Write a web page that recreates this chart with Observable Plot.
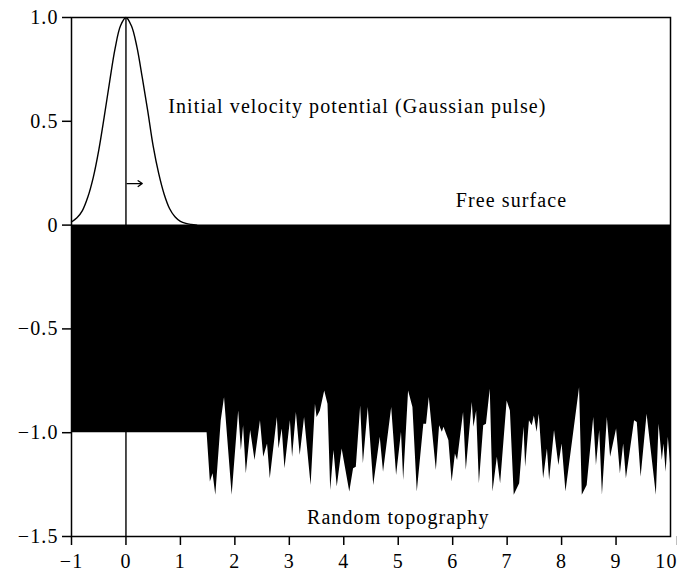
<!DOCTYPE html>
<html>
<head>
<meta charset="utf-8">
<script src="https://cdn.jsdelivr.net/npm/d3@7"></script>
<script src="https://cdn.jsdelivr.net/npm/@observablehq/plot@0.6"></script>
<style>
  html, body { margin: 0; padding: 0; background: white; }
</style>
</head>
<body>
<div id="chart"></div>
<script>
// Initial velocity potential (Gaussian pulse)
const gaussX = [-1.0, -0.9, -0.8, -0.7, -0.6, -0.5, -0.4, -0.3, -0.2, -0.1, 0.0, 0.1, 0.2, 0.3, 0.4, 0.5, 0.6, 0.7, 0.8, 0.9, 1.0, 1.1, 1.2, 1.3];
const gaussY = [0.015, 0.035, 0.07, 0.135, 0.23, 0.36, 0.52, 0.69, 0.85, 0.96, 1.0, 0.96, 0.86, 0.71, 0.55, 0.38, 0.25, 0.15, 0.08, 0.04, 0.018, 0.008, 0.003, 0.0];

// Random topography (bottom depth)
const topoX = [-1.0, 1.49, 1.55, 1.60, 1.65, 1.75, 1.81, 1.95, 2.07, 2.12, 2.16, 2.21, 2.29, 2.37, 2.47, 2.53, 2.60, 2.65, 2.78, 2.81, 2.87, 2.92, 3.02, 3.06, 3.13, 3.20, 3.28, 3.40, 3.48, 3.51, 3.57, 3.65, 3.71, 3.76, 3.82, 3.88, 3.97, 4.11, 4.18, 4.23, 4.31, 4.36, 4.45, 4.55, 4.67, 4.73, 4.88, 4.97, 5.06, 5.10, 5.19, 5.27, 5.35, 5.47, 5.52, 5.57, 5.70, 5.76, 5.81, 5.84, 5.93, 5.99, 6.05, 6.09, 6.20, 6.25, 6.36, 6.39, 6.44, 6.49, 6.57, 6.62, 6.69, 6.74, 6.82, 6.88, 7.00, 7.06, 7.13, 7.23, 7.31, 7.34, 7.41, 7.46, 7.50, 7.55, 7.59, 7.67, 7.74, 7.78, 7.87, 7.95, 8.01, 8.08, 8.33, 8.38, 8.47, 8.59, 8.64, 8.70, 8.75, 8.84, 8.90, 9.01, 9.08, 9.14, 9.19, 9.34, 9.39, 9.46, 9.57, 9.74, 9.79, 9.85, 9.88, 9.92, 9.96, 10.0];
const topoY = [-1.0, -1.0, -1.238, -1.198, -1.301, -0.943, -0.831, -1.301, -0.895, -1.086, -0.967, -1.198, -0.990, -1.134, -0.943, -1.118, -1.054, -1.222, -0.927, -1.078, -0.982, -1.174, -0.943, -1.118, -0.903, -1.110, -0.927, -1.254, -0.863, -0.927, -0.895, -0.799, -0.863, -1.278, -1.086, -1.262, -1.078, -1.286, -1.174, -1.166, -0.871, -1.150, -0.879, -1.254, -1.022, -1.190, -0.879, -1.206, -0.998, -1.230, -0.799, -0.879, -1.286, -0.959, -0.959, -0.831, -1.182, -0.967, -0.998, -0.974, -1.038, -1.238, -1.102, -1.134, -0.903, -1.182, -0.855, -0.974, -0.895, -1.246, -0.967, -0.959, -0.791, -1.286, -1.118, -1.246, -0.847, -0.895, -1.301, -1.246, -0.974, -1.166, -0.943, -0.967, -0.919, -0.998, -0.911, -1.222, -1.078, -1.230, -0.990, -1.158, -1.054, -1.286, -0.783, -1.301, -1.254, -0.927, -1.158, -0.990, -1.301, -0.927, -1.118, -0.982, -1.198, -1.054, -1.222, -0.943, -0.951, -1.214, -0.911, -1.301, -0.959, -1.134, -1.054, -1.190, -1.022, -1.15];

const xTicks = [-1, 0, 1, 2, 3, 4, 5, 6, 7, 8, 9, 10];
const xTickLabels = ["\u22121", "0", "1", "2", "3", "4", "5", "6", "7", "8", "9", "10"];
const yTicks = [-1.5, -1.0, -0.5, 0, 0.5, 1.0];
const yTickLabels = ["\u22121.5", "\u22121.0", "\u22120.5", "0", "0.5", "1.0"];

const gauss = gaussX.map((x, i) => ({x, y: gaussY[i]}));
const topo = topoX.map((x, i) => ({x, y: topoY[i]}));

const font = "'Liberation Serif', 'Times New Roman', serif";
const xFmt = d => xTickLabels[xTicks.indexOf(d)];
const yFmt = d => yTickLabels[yTicks.indexOf(d)];

const chart = Plot.plot({
  width: 677,
  height: 580,
  marginLeft: 71,
  marginRight: 7,
  marginTop: 17,
  marginBottom: 44,
  style: {fontFamily: font, fontSize: "20px", color: "black", background: "white", letterSpacing: "1.1px"},
  x: {domain: [-1, 10], label: null},
  y: {domain: [-1.5, 1.0], label: null},
  marks: [
    Plot.areaY(topo, {x: "x", y1: 0, y2: "y", fill: "black", curve: "linear"}),
    Plot.line(gauss, {x: "x", y: "y", stroke: "black", strokeWidth: 1.4, curve: "catmull-rom"}),
    Plot.ruleX([0], {y1: -1.5, y2: 1.0, stroke: "black", strokeWidth: 1.4}),
    Plot.frame({stroke: "black", strokeWidth: 1.5}),
    Plot.axisX({ticks: xTicks.slice(0, -1), tickFormat: xFmt, tickSize: 9, tickPadding: 8, strokeWidth: 1.5, fontSize: 20, fill: "black", label: null}),
    Plot.axisX({ticks: xTicks.slice(-1), tickFormat: xFmt, tickSize: 9, tickPadding: 8, strokeWidth: 1.5, fontSize: 20, fill: "black", label: null, textAnchor: "end", dx: 7}),
    Plot.axisY({ticks: yTicks, tickFormat: yFmt, tickSize: 9, tickPadding: 4, strokeWidth: 1.5, fontSize: 20, fill: "black", label: null}),
    Plot.text(["Initial velocity potential (Gaussian pulse)"], {x: 4.25, y: 0.571, text: d => d, fontSize: 20, fill: "black"}),
    Plot.text(["Free surface"], {x: 7.08, y: 0.118, text: d => d, fontSize: 20, fill: "black"}),
    Plot.text(["Random topography"], {x: 5.0, y: -1.408, text: d => d, fontSize: 20, fill: "black"}),
    Plot.arrow([0], {x1: 0.02, x2: 0.3, y1: 0.2, y2: 0.2, stroke: "black", strokeWidth: 1.3, headLength: 6, headAngle: 70})
  ]
});
document.getElementById("chart").appendChild(chart);
</script>
</body>
</html>
